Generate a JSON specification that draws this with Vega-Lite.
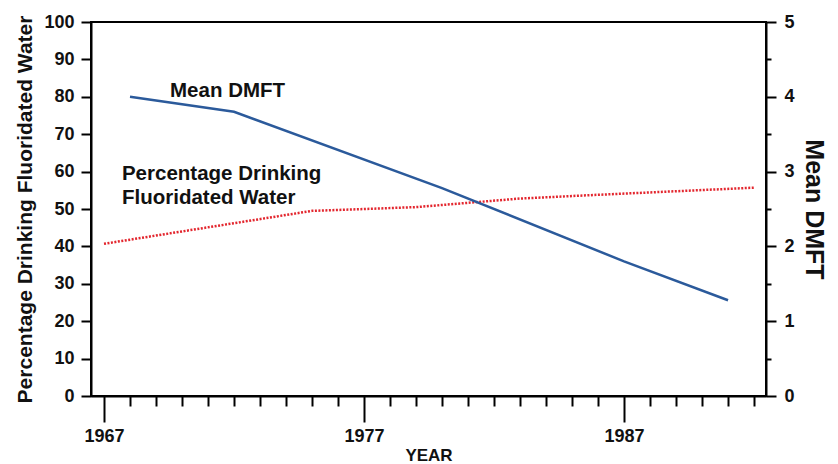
{
  "$schema": "https://vega.github.io/schema/vega-lite/v6.json",
  "width": 675,
  "height": 374,
  "autosize": "none",
  "padding": {"left": 91, "top": 22, "right": 72, "bottom": 68},
  "background": "white",
  "config": {
    "view": {"stroke": "black", "strokeWidth": 2},
    "font": "Liberation Sans",
    "axis": {
      "grid": false,
      "domainColor": "black",
      "domainWidth": 2,
      "tickColor": "black",
      "tickWidth": 2,
      "labelFont": "Liberation Sans",
      "labelFontWeight": "bold",
      "labelFontSize": 18,
      "labelColor": "#111",
      "titleFont": "Liberation Sans",
      "titleFontWeight": "bold",
      "titleColor": "#111"
    }
  },
  "datasets": {
    "pct": [
      {"year": 1967, "pct": 40.7},
      {"year": 1975, "pct": 49.5},
      {"year": 1979, "pct": 50.5},
      {"year": 1983, "pct": 52.8},
      {"year": 1986, "pct": 53.8},
      {"year": 1992, "pct": 55.7}
    ],
    "dmft": [
      {"year": 1968, "dmft": 4.0},
      {"year": 1972, "dmft": 3.8},
      {"year": 1980, "dmft": 2.78},
      {"year": 1987, "dmft": 1.8},
      {"year": 1991, "dmft": 1.28}
    ],
    "labels": [
      {"year": 1969.54, "pct": 79.9, "label": "Mean DMFT"},
      {"year": 1967.69, "pct": 57.75, "label": "Percentage Drinking"},
      {"year": 1967.69, "pct": 51.3, "label": "Fluoridated Water"}
    ]
  },
  "layer": [
    {
      "encoding": {
        "x": {
          "field": "year",
          "type": "quantitative",
          "scale": {"domain": [1966.5, 1992.46], "nice": false, "zero": false},
          "axis": {
            "title": "YEAR",
            "titleFontSize": 17,
            "titlePadding": 2,
            "tickCount": 40,
            "values": [1967,1968,1969,1970,1971,1972,1973,1974,1975,1976,1977,1978,1979,1980,1981,1982,1983,1984,1985,1986,1987,1988,1989,1990,1991,1992],
            "format": "d",
            "labelOverlap": false,
            "labelExpr": "(datum.value == 1967 || datum.value == 1977 || datum.value == 1987) ? datum.label : ''",
            "tickSize": {"condition": {"test": "datum.value == 1967 || datum.value == 1977 || datum.value == 1987", "value": 26}, "value": 10},
            "labelPadding": 5
          }
        },
        "y": {
          "field": "pct",
          "type": "quantitative",
          "scale": {"domain": [0, 100], "nice": false},
          "axis": {
            "title": "Percentage Drinking Fluoridated Water",
            "titleFontSize": 21,
            "titlePadding": 8,
            "tickCount": 20,
            "values": [0,10,20,30,40,50,60,70,80,90,100],
            "tickSize": 10,
            "labelPadding": 7
          }
        }
      },
      "layer": [
        {
          "data": {"name": "pct"},
          "mark": {"type": "line", "color": "#e3262e", "strokeWidth": 2.5, "strokeDash": [2, 1.5]}
        },
        {
          "data": {"name": "labels"},
          "mark": {"type": "text", "align": "left", "baseline": "alphabetic", "fontSize": 20.5, "fontWeight": "bold", "font": "Liberation Sans", "color": "#111"},
          "encoding": {"text": {"field": "label"}}
        }
      ]
    },
    {
      "data": {"name": "dmft"},
      "mark": {"type": "line", "color": "#2b5a9b", "strokeWidth": 2.5},
      "encoding": {
        "x": {"field": "year", "type": "quantitative"},
        "y": {
          "field": "dmft",
          "type": "quantitative",
          "scale": {"domain": [0, 5], "nice": false},
          "axis": {
            "orient": "right",
            "title": "Mean DMFT",
            "titleFontSize": 25,
            "titlePadding": 6,
            "tickCount": 20,
            "values": [0,0.5,1,1.5,2,2.5,3,3.5,4,4.5,5],
            "labelOverlap": false,
            "labelExpr": "datum.value % 1 == 0 ? format(datum.value, 'd') : ''",
            "tickSize": {"condition": {"test": "datum.value % 1 == 0", "value": 10}, "value": 5},
            "labelPadding": 8
          }
        }
      }
    }
  ],
  "resolve": {"scale": {"y": "independent"}}
}
